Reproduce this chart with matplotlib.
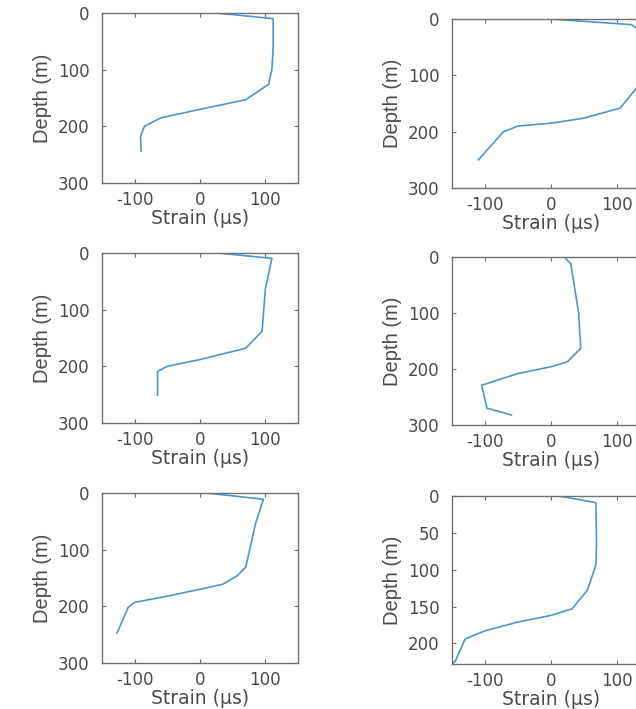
import matplotlib.pyplot as plt

# -----------------------------------------------------------------------------
# Strain profiles (strain in microstrain, depth in m), one pair per panel
# -----------------------------------------------------------------------------

strain_a = [25, 112, 112, 110, 105, 70, 0, -60, -85, -91, -90]
depth_a = [0, 10, 60, 100, 126, 153, 170, 185, 200, 218, 244]

strain_b = [0, 122, 140, 142, 138, 130, 105, 50, 0, -50, -72, -110]
depth_b = [0, 10, 25, 60, 100, 122, 158, 176, 185, 190, 200, 250]

strain_c = [27, 110, 100, 95, 70, 0, -50, -65, -65]
depth_c = [0, 9.5, 64, 138, 168, 188, 200, 209, 251]

strain_d = [20, 30, 42, 45, 25, 0, -50, -105, -97, -60]
depth_d = [0, 12, 101, 163, 187, 196, 208, 229, 270, 282]

strain_e = [10, 97, 85, 70, 57, 35, 0, -50, -100, -110, -127]
depth_e = [0, 11, 54, 131, 146, 161, 170, 182, 193, 202, 247]

strain_f = [12, 68, 69, 68, 55, 32, 0, -50, -100, -130, -145, -150]
depth_f = [0, 9, 62, 94, 128, 153, 162, 171, 183, 194, 224, 228]

PROFILES = [
    (strain_a, depth_a),
    (strain_b, depth_b),
    (strain_c, depth_c),
    (strain_d, depth_d),
    (strain_e, depth_e),
    (strain_f, depth_f),
]

X_TICKS = [-100, 0, 100]
Y_TICKS = [0, 100, 200, 300]
Y_TICKS_LAST = [0, 50, 100, 150, 200]

# -----------------------------------------------------------------------------
# Layout / style
# -----------------------------------------------------------------------------

W_PX, H_PX = 636, 709
DPI = 100

LINE_COLOR = "#4f95cc"
AXIS_COLOR = "#707070"
TEXT_COLOR = "#4a4a4a"

# axes boxes in pixels: left, top, width, height
BOXES = [
    (102, 13, 196, 170),
    (452, 19, 198, 169),
    (102, 253, 196, 170),
    (452, 257, 198, 168),
    (102, 493, 196, 170),
    (452, 496, 198, 168),
]

plt.rcParams["axes.unicode_minus"] = False


def px_to_rect(left, top, width, height):
    return [left / W_PX, 1 - (top + height) / H_PX, width / W_PX, height / H_PX]


def plot():
    fig = plt.figure(figsize=(W_PX / DPI, H_PX / DPI), dpi=DPI)

    for i, ((strain, depth), box) in enumerate(zip(PROFILES, BOXES)):
        ax = fig.add_axes(px_to_rect(*box))
        ax.plot(strain, depth, color=LINE_COLOR, lw=1.2)

        ax.set_xlim(-150, 150)
        if i == 5:
            ax.set_ylim(228, 0)
            ax.set_yticks(Y_TICKS_LAST)
        else:
            ax.set_ylim(300, 0)
            ax.set_yticks(Y_TICKS)
        ax.set_xticks(X_TICKS)

        for s in ax.spines.values():
            s.set_color(AXIS_COLOR)
            s.set_linewidth(1.0)

        ax.tick_params(
            direction="in",
            length=3,
            width=0.8,
            color=AXIS_COLOR,
            top=True,
            right=True,
            labelsize=12,
            labelcolor=TEXT_COLOR,
        )
        ax.tick_params(axis="y", pad=9)
        ax.tick_params(axis="x", pad=6)

        ax.set_xlabel("Strain (µs)", fontsize=13.5, color=TEXT_COLOR,
                      family="DejaVu Sans", labelpad=0)
        ax.set_ylabel("Depth (m)", fontsize=14.5, color=TEXT_COLOR,
                      family=["Liberation Sans Narrow", "Liberation Sans"],
                      labelpad=4)

    fig.savefig("out.png", dpi=DPI)
    plt.close(fig)


if __name__ == "__main__":
    plot()
